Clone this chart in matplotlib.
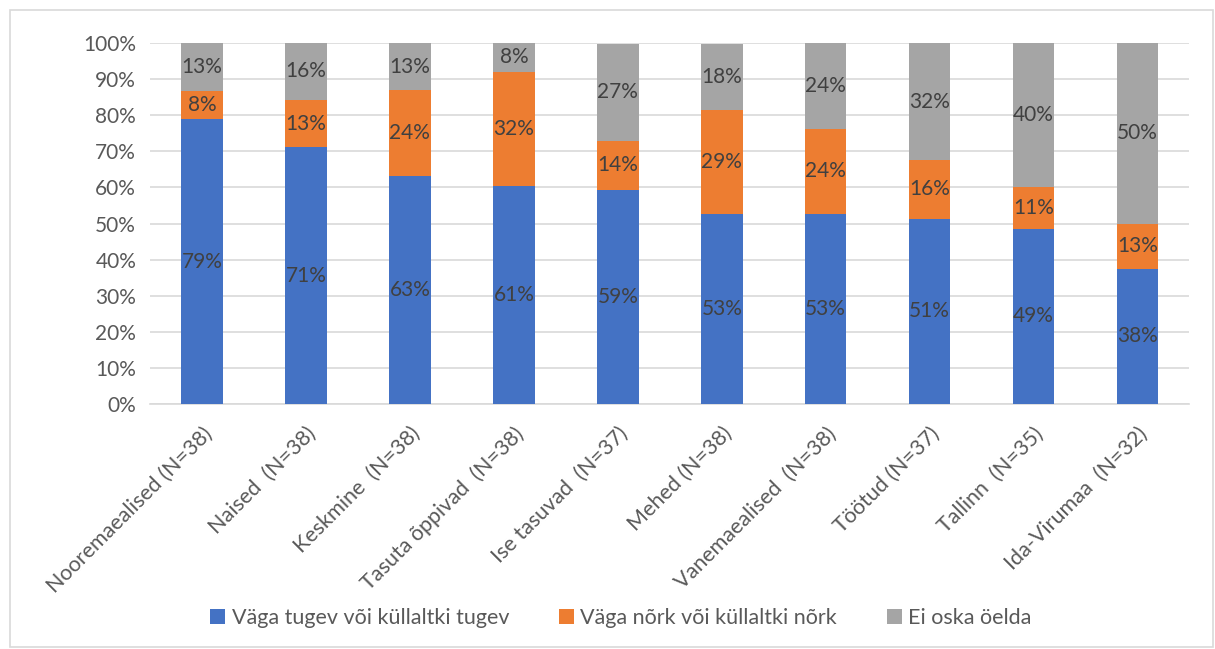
import numpy as np
import matplotlib.pyplot as plt
from matplotlib.patches import Rectangle

categories = ['Nooremaealised (N=38)', 'Naised  (N=38)', 'Keskmine  (N=38)',
              'Tasuta õppivad  (N=38)', 'Ise tasuvad  (N=37)', 'Mehed (N=38)',
              'Vanemaealised  (N=38)', 'Töötud (N=37)', 'Tallinn  (N=35)',
              'Ida-Virumaa  (N=32)']
strong = [78.9, 71.1, 63.2, 60.5, 59.4, 52.6, 52.6, 51.4, 48.6, 37.5]
weak = [7.9, 13.2, 23.7, 31.6, 13.5, 28.9, 23.7, 16.2, 11.4, 12.5]
dont_know = [13.2, 15.8, 13.2, 7.9, 27.0, 18.4, 23.7, 32.4, 40.0, 50.0]
series_names = ['Väga tugev või küllaltki tugev', 'Väga nõrk või küllaltki nõrk', 'Ei oska öelda']
colors = ['#4472c4', '#ed7d31', '#a5a5a5']

plt.rcParams['font.family'] = ['Lato', 'DejaVu Sans']
fs = 15

fig = plt.figure(figsize=(12.15, 6.49), dpi=100)
ax = fig.add_axes([0.1235, 0.3775, 0.8555, 0.556])

# light border around the whole chart
fig.patches.append(Rectangle((0.008, 0.003), 0.99, 0.982, transform=fig.transFigure,
                             fill=False, edgecolor='#d9d9d9', linewidth=1.2))

x = np.arange(len(categories))
bottom = np.zeros(len(categories))
for vals, name, c in zip([strong, weak, dont_know], series_names, colors):
    vals = np.array(vals)
    ax.bar(x, vals, 0.4, bottom=bottom, color=c, label=name, zorder=3)
    for xi, b, v in zip(x, bottom, vals):
        ax.text(xi, b + v / 2, f'{int(np.floor(v + 0.5))}%', ha='center', va='center',
                fontsize=fs, color='#404040', zorder=4)
    bottom += vals

ax.set_ylim(0, 100)
ax.set_xlim(-0.5, len(categories) - 0.5)
ax.set_yticks(np.arange(0, 101, 10))
ax.set_yticklabels([f'{t}%' for t in range(0, 101, 10)])
ax.yaxis.grid(True, color='#d9d9d9', linewidth=1.2, zorder=0)
ax.set_xticks(x)
ax.set_xticklabels(categories, rotation=45, ha='right', rotation_mode='anchor')
ax.tick_params(axis='both', length=0, labelsize=fs, colors='#595959')
ax.tick_params(axis='x', pad=14, labelsize=15.5)
ax.tick_params(axis='y', pad=10)
for s in ['top', 'right', 'left']:
    ax.spines[s].set_visible(False)
ax.spines['bottom'].set_color('#d9d9d9')
ax.spines['bottom'].set_linewidth(1.2)

fig.legend(loc='center', bbox_to_anchor=(0.511, 0.048), ncol=3, frameon=False,
           fontsize=15.5, handlelength=0.7, handleheight=0.7, handletextpad=0.3,
           columnspacing=2.3, labelcolor='#595959')

fig.savefig('out.png', dpi=100)
